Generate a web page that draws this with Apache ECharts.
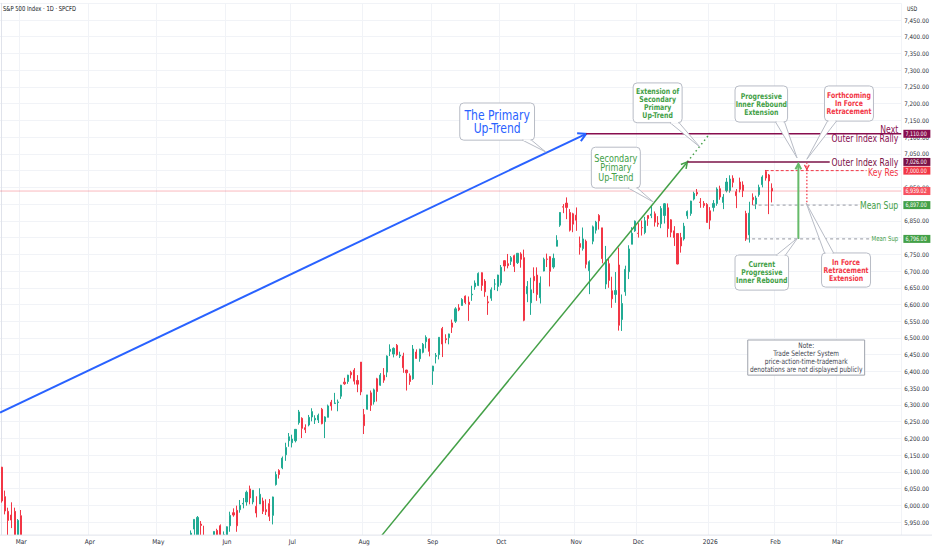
<!DOCTYPE html>
<html><head><meta charset="utf-8">
<script src="https://cdn.jsdelivr.net/npm/echarts@6/dist/echarts.min.js"></script>
<style>html,body{margin:0;padding:0;background:#fff}#c{width:932px;height:550px}</style>
</head><body><div id="c"></div>
<script>
// ---------------- DATA ----------------
const chartTitle = 'S&P 500 Index · 1D · SPCFD';
const currency = 'USD';
const firstDay = '2025-02-21';
const lastDay = '2026-03-27';
const holidays = ['2025-04-18','2025-05-26','2025-06-19','2025-07-04','2025-09-01','2025-11-27','2025-12-25','2026-01-01','2026-01-19','2026-02-16'];
const monthNames = ['2026','Feb','Mar','Apr','May','Jun','Jul','Aug','Sep','Oct','Nov','Dec'];
const yMin = 5900, yMax = 7500, yStep = 50;

// daily candles [open, high, low, close]
const feb25 = [[6114,6115,6008,6013],[6026,6044,5973,5983],[5982,5993,5908,5955],[5971,6009,5932,5956],[5982,5993,5858,5861],[5857,5959,5837,5955]];
const mar25 = [[5969,5986,5810,5849],[5812,5865,5732,5778],[5781,5861,5742,5843],[5785,5812,5711,5739],[5726,5783,5666,5770],[5705,5705,5564,5615],[5604,5636,5529,5572],[5624,5642,5546,5599],[5594,5598,5505,5521],[5563,5645,5563,5639],[5635,5703,5631,5675],[5654,5654,5598,5615],[5633,5715,5622,5675],[5646,5711,5632,5663],[5630,5670,5603,5667],[5718,5775,5718,5768],[5776,5787,5766,5777],[5771,5784,5694,5712],[5696,5732,5670,5693],[5679,5685,5572,5581],[5527,5620,5489,5612]];
const apr25 = [[5598,5651,5570,5633],[5580,5695,5571,5671],[5492,5500,5390,5397],[5292,5292,5070,5074],[4953,5247,4835,5062],[5193,5267,4910,4982],[4966,5481,4950,5457],[5353,5353,5116,5268],[5255,5370,5220,5363],[5441,5459,5358,5406],[5411,5450,5386,5397],[5335,5367,5220,5276],[5306,5328,5255,5283],[5232,5232,5101,5158],[5207,5309,5207,5288],[5395,5469,5356,5376],[5381,5489,5371,5485],[5489,5528,5455,5525],[5529,5554,5478,5529],[5508,5563,5505,5561],[5500,5581,5433,5569]];
const may25 = [[5626,5658,5597,5604],[5645,5700,5644,5687],[5655,5684,5640,5650],[5605,5634,5586,5607],[5614,5654,5579,5631],[5663,5720,5645,5664],[5678,5691,5649,5660],[5807,5845,5784,5844],[5854,5906,5837,5886],[5893,5906,5868,5892],[5870,5925,5856,5917],[5929,5958,5907,5958],[5902,5968,5896,5964],[5944,5953,5910,5940],[5910,5939,5830,5845],[5841,5878,5817,5842],[5782,5829,5768,5802],[5855,5922,5855,5922],[5925,5930,5884,5889],[5939,5943,5875,5912],[5903,5922,5843,5912]];
const jun25 = [[5897,5937,5862,5936],[5939,5981,5921,5970],[5978,5991,5966,5971],[5985,5999,5921,5939],[5987,6016,5978,6000],[6004,6022,5991,6006],[6010,6044,5999,6039],[6049,6059,6003,6022],[6010,6045,6003,6045],[5997,6027,5964,5977],[6004,6051,6004,6033],[6013,6023,5974,5982],[5987,6018,5971,5981],[6005,6019,5953,5967],[5970,6026,5943,6025],[6062,6101,6059,6092],[6104,6108,6080,6092],[6112,6146,6108,6141],[6151,6187,6133,6173],[6193,6216,6175,6205]];
const jul25 = [[6187,6211,6173,6198],[6193,6227,6188,6227],[6247,6285,6241,6279],[6260,6263,6201,6230],[6232,6242,6216,6226],[6240,6270,6236,6263],[6264,6290,6251,6280],[6255,6269,6243,6260],[6255,6274,6246,6269],[6287,6291,6242,6244],[6250,6266,6201,6264],[6263,6301,6263,6297],[6308,6315,6283,6297],[6304,6336,6303,6306],[6307,6316,6281,6309],[6326,6360,6318,6359],[6368,6381,6360,6363],[6370,6390,6363,6389],[6397,6402,6379,6390],[6404,6410,6361,6371],[6373,6389,6338,6362],[6428,6428,6329,6339]];
const aug25 = [[6271,6288,6213,6238],[6287,6330,6286,6330],[6336,6343,6282,6299],[6309,6349,6301,6345],[6378,6381,6310,6340],[6359,6395,6357,6389],[6389,6410,6366,6374],[6398,6448,6383,6446],[6460,6481,6446,6466],[6452,6472,6442,6469],[6478,6482,6447,6450],[6446,6459,6440,6449],[6446,6456,6396,6411],[6404,6405,6343,6396],[6387,6394,6360,6370],[6378,6479,6375,6467],[6458,6466,6438,6439],[6438,6468,6429,6466],[6457,6485,6454,6481],[6489,6508,6469,6502],[6497,6499,6445,6460]];
const sep25 = [[6401,6417,6360,6416],[6445,6455,6424,6448],[6450,6502,6436,6502],[6528,6533,6443,6482],[6498,6511,6484,6495],[6501,6513,6481,6512],[6545,6555,6515,6532],[6550,6592,6545,6587],[6590,6601,6580,6584],[6597,6619,6597,6615],[6625,6627,6601,6606],[6607,6624,6551,6600],[6629,6656,6611,6631],[6653,6672,6644,6664],[6657,6696,6655,6693],[6695,6696,6641,6657],[6670,6676,6623,6638],[6608,6626,6569,6605],[6619,6651,6611,6644],[6661,6676,6643,6661],[6654,6689,6640,6688]];
const oct25 = [[6665,6718,6657,6711],[6731,6732,6699,6715],[6722,6751,6708,6716],[6729,6745,6718,6740],[6746,6749,6697,6714],[6725,6753,6721,6753],[6751,6756,6710,6735],[6740,6764,6550,6553],[6632,6670,6607,6654],[6605,6680,6569,6644],[6684,6711,6634,6671],[6688,6711,6611,6630],[6620,6684,6603,6664],[6700,6740,6699,6735],[6736,6752,6712,6735],[6743,6744,6654,6699],[6712,6752,6707,6738],[6774,6807,6774,6792],[6837,6876,6832,6875],[6892,6900,6873,6891],[6903,6920,6855,6890],[6875,6885,6818,6822],[6871,6874,6816,6840]];
const nov25 = [[6867,6890,6820,6852],[6782,6803,6749,6771],[6767,6830,6761,6796],[6789,6794,6708,6720],[6701,6732,6631,6728],[6789,6836,6780,6832],[6822,6850,6812,6846],[6866,6870,6824,6850],[6829,6829,6723,6737],[6661,6775,6646,6734],[6722,6737,6650,6672],[6641,6683,6590,6617],[6630,6697,6605,6642],[6718,6770,6522,6538],[6555,6630,6521,6603],[6638,6716,6626,6705],[6698,6777,6676,6766],[6780,6831,6780,6813],[6820,6851,6817,6849]];
const dec25 = [[6813,6843,6800,6812],[6830,6851,6806,6829],[6815,6862,6810,6850],[6866,6866,6835,6857],[6866,6895,6858,6870],[6871,6878,6833,6846],[6843,6864,6832,6840],[6841,6894,6828,6887],[6866,6903,6842,6901],[6889,6902,6801,6827],[6853,6855,6801,6816],[6820,6834,6775,6800],[6812,6812,6720,6721],[6800,6814,6755,6775],[6796,6844,6791,6834],[6865,6881,6856,6878],[6872,6910,6865,6909],[6915,6937,6911,6932],[6935,6945,6924,6930],[6906,6918,6889,6905],[6902,6909,6889,6896],[6899,6903,6845,6845]];
const jan26 = [[6880,6891,6825,6852],[6890,6912,6878,6902],[6902,6950,6895,6945],[6946,6955,6913,6921],[6905,6930,6885,6921],[6940,6978,6935,6966],[6940,6986,6934,6975],[6977,6986,6950,6965],[6937,6945,6888,6925],[6966,6979,6935,6944],[6957,6968,6921,6940],[6872,6880,6790,6796],[6808,6907,6785,6873],[6920,6932,6897,6913],[6900,6925,6885,6918],[6928,6958,6922,6950],[6958,6986,6950,6981],[6997,7002,6970,6978],[6987,6990,6870,6969],[6947,6962,6905,6939]];

// price levels shown on the price scale
const levelPrices = [7110, 7026, 7000, 6939.02, 6897, 6796];
const levelLabels = ['7,110.00','7,026.00','7,000.00','6,939.02','6,897.00','6,796.00'];

// drawn lines in data units: [name, barIndexFrom, priceFrom, barIndexTo, priceTo]
const segments = [
  ['lastPrice', -0.5, 6939.02, 275.5, 6939.02],
  ['primary', -0.5, 6277, 179, 7110],
  ['secondary', 116, 5905, 210, 7026],
  ['secondaryExt', 210, 7026, 217, 7112],
  ['nextOuter', 179, 7110, 275.5, 7110],
  ['outer', 210, 7026, 253.6, 7026],
  ['keyRes', 234, 7000, 264.9, 7000],
  ['meanSup1', 230, 6897, 262.7, 6897],
  ['meanSup2', 228, 6796, 265.8, 6796],
  ['rebound', 244, 6796, 244, 7020],
  ['retraceArrow', 246.6, 7024, 246.6, 7004],
  ['retraceExt', 246.6, 7004, 246.6, 6897]
];

// text labels on the right, anchored at [barIndex, price]
const levelTexts = [
  ['next', 'Next\nOuter Index Rally', 274.6, 7110],
  ['outer', 'Outer Index Rally', 274.6, 7026],
  ['keyRes', 'Key Res', 274.6, 7000],
  ['meanBig', 'Mean Sup', 274.6, 6897],
  ['meanSmall', 'Mean Sup', 274.6, 6796]
];

// callouts: [name, text, leftBar, topPrice, rightBar, bottomPrice, tipBar, tipPrice]
const callouts = [
  ['primary', 'The Primary\nUp-Trend', 140.3, 7202, 163.2, 7091, 166.6, 7056],
  ['secondary', 'Secondary\nPrimary\nUp-Trend', 180.6, 7070, 195.6, 6948, 199.6, 6906],
  ['extension', 'Extension of\nSecondary\nPrimary\nUp-Trend', 193.4, 7262, 208.4, 7143, 213.9, 7070],
  ['progressive', 'Progressive\nInner Rebound\nExtension', 224.6, 7253, 240.7, 7145, 243.6, 7038],
  ['forthcoming', 'Forthcoming\nIn Force\nRetracement', 252.0, 7253, 267.0, 7148, 246.6, 7034],
  ['current', 'Current\nProgressive\nInner Rebound', 224.6, 6748, 241.0, 6643, 243.8, 6799],
  ['inforce', 'In Force\nRetracement\nExtension', 251.1, 6754, 266.1, 6652, 246.4, 6903],
  ['note', 'Note:\nTrade Selecter System\nprice-action-time-trademark\ndenotations are not displayed publicly', 228.5, 6494, 264.3, 6389, null, null]
];

// ---------------- BUILD ----------------
const DAYS = [];
(function(){
  let t = Date.parse(firstDay + 'T00:00:00Z'); const end = Date.parse(lastDay + 'T00:00:00Z');
  while (t <= end) { const d = new Date(t); const wd = d.getUTCDay(); const s = d.toISOString().slice(0,10);
    if (wd !== 0 && wd !== 6 && holidays.indexOf(s) < 0) DAYS.push(s); t += 86400000; }
})();
const OHLC = [].concat(feb25, mar25, apr25, may25, jun25, jul25, aug25, sep25, oct25, nov25, dec25, jan26);
const N = DAYS.length;

function hasFont(f){ const c = document.createElement('canvas').getContext('2d'); const t = 'abcdefghijklmnopqrstuvwxyz ABCDEFG 0123456789';
  c.font = '40px monospace'; const w0 = c.measureText(t).width; c.font = "40px '" + f + "', monospace"; return Math.abs(c.measureText(t).width - w0) > 0.5; }
let FONT = "'Noto Sans', sans-serif", SX = 0.82;
if (hasFont('Liberation Sans Narrow')) { FONT = "'Liberation Sans Narrow', sans-serif"; SX = 1.04; }
else if (hasFont('DejaVu Sans Condensed')) { FONT = "'DejaVu Sans Condensed', sans-serif"; SX = 0.86; }

const UP = '#22ab94', DOWN = '#f23645';
const GREEN = '#43a047', RED = '#f23645', MAROON = '#880e4f', BLUE = '#2962ff';
const SEG_STYLE = {
  lastPrice: {color:'rgba(242,54,69,0.35)', width:1},
  primary: {color:BLUE, width:2, arrow:9},
  secondary: {color:GREEN, width:1.5, arrow:7},
  secondaryExt: {color:GREEN, width:1.5, dash:[1.5,3]},
  nextOuter: {color:MAROON, width:1.5},
  outer: {color:'#7b1247', width:1.5},
  keyRes: {color:RED, width:1, dash:[3,2]},
  meanSup1: {color:'#9598a1', width:1, dash:[3,3]},
  meanSup2: {color:'#9598a1', width:1, dash:[3,3]},
  rebound: {color:'#66bb6a', width:2, arrow:6},
  retraceArrow: {color:RED, width:1, dash:[1.5,1.5], arrow:5, arrowWidth:1.2},
  retraceExt: {color:RED, width:1.3, dash:[1.5,2]}
};
const isMonthStart = i => i > 0 && DAYS[i].slice(0,7) !== DAYS[i-1].slice(0,7);

const chart = echarts.init(document.getElementById('c'), null, {renderer:'svg', width:932, height:550});
const bandW = 3.276;
const gridLeft = -1.3, gridRight = 932 - (gridLeft + N * bandW);
chart.setOption({
  animation:false,
  backgroundColor:'#ffffff',
  grid:{left:gridLeft, right:gridRight, top:3.27, bottom:11.2, containLabel:false},
  xAxis:[{
    type:'category', data:DAYS, boundaryGap:true, position:'bottom',
    axisLine:{show:false}, axisTick:{show:false}, axisLabel:{show:false},
    splitLine:{show:true, interval:(i)=>isMonthStart(i), lineStyle:{color:'#f1f3f7', width:1}}
  },{
    type:'value', min:-0.5, max:N-0.5, show:false, position:'top'
  },{
    type:'category', data:DAYS, boundaryGap:true, z:50, position:'bottom', offset:0,
    axisLine:{show:false}, axisTick:{show:false}, splitLine:{show:false},
    axisLabel:{interval:(i)=>isMonthStart(i), margin:0, fontSize:6.5, color:'#2a2e39', fontFamily:FONT,
      formatter:(v)=>{ const m = +v.slice(5,7); return m === 1 ? v.slice(0,4) : monthNames[m-1]; }}
  }],
  yAxis:{
    type:'value', position:'right', min:yMin, max:yMax, interval:yStep, scale:true,
    axisLine:{show:true, lineStyle:{color:'#e0e3eb'}}, axisTick:{show:false},
    axisLabel:{margin:3, fontSize:6.2, color:'#2a2e39', fontFamily:FONT,
      formatter:(v)=> (v <= yMin || v >= yMax) ? '' : v.toLocaleString('en-US',{minimumFractionDigits:2, maximumFractionDigits:2})},
    splitLine:{show:true, lineStyle:{color:'#f1f3f7', width:1}}
  },
  series:[{
    type:'candlestick', xAxisIndex:0, yAxisIndex:0, barWidth:1.6, clip:true, silent:true,
    data: OHLC.map(r => [r[0], r[3], r[2], r[1]]),
    itemStyle:{color:UP, color0:DOWN, borderColor:UP, borderColor0:DOWN, borderWidth:1}
  },{
    type:'custom', xAxisIndex:1, yAxisIndex:0, clip:true, z:5, silent:true,
    data: segments.map(s => [s[1], s[2], s[3], s[4]]),
    encode:{x:[0,2], y:[1,3]},
    renderItem:(params, api)=>{
      const st = SEG_STYLE[segments[params.dataIndex][0]];
      const a = api.coord([api.value(0), api.value(1)]), b = api.coord([api.value(2), api.value(3)]);
      const ch = [{type:'line', shape:{x1:a[0],y1:a[1],x2:b[0],y2:b[1]}, style:{stroke:st.color, lineWidth:st.width, lineDash:st.dash || null, fill:null}}];
      if (st.arrow) {
        const dx = b[0]-a[0], dy = b[1]-a[1], L = Math.hypot(dx,dy), ux = dx/L, uy = dy/L, s = st.arrow, th = 0.5;
        const c = Math.cos(th), sn = Math.sin(th);
        const p1 = [b[0] - s*(ux*c - uy*sn), b[1] - s*(uy*c + ux*sn)];
        const p2 = [b[0] - s*(ux*c + uy*sn), b[1] - s*(uy*c - ux*sn)];
        ch.push({type:'polyline', shape:{points:[p1, b, p2]}, style:{stroke:st.color, lineWidth:st.arrowWidth || st.width, fill:null}});
      }
      return {type:'group', children:ch};
    }
  }]
});

// ---------------- OVERLAYS ----------------
const px = (x, p) => chart.convertToPixel({xAxisIndex:1, yAxisIndex:0}, [x, p]);
const G = [];
function txt(x, y, text, size, color, align, lh, z, weight){
  G.push({type:'text', x:x, y:y, scaleX:SX, z:z || 20, silent:true,
    style:{text:text, x:0, y:0, font:(weight || 'normal') + ' ' + size + 'px ' + FONT, fill:color,
      textAlign:align || 'center', align:align || 'center', textVerticalAlign:'middle', verticalAlign:'middle', lineHeight:lh || size*1.1}});
}
const plotRight = gridLeft + N * bandW;
const plotBottom = px(0, 5911)[1];
// white area below the plot + borders
G.push({type:'rect', z:8, silent:true, shape:{x:0, y:plotBottom, width:plotRight, height:550 - plotBottom}, style:{fill:'#fff'}});
G.push({type:'line', z:9, silent:true, shape:{x1:0, y1:plotBottom, x2:932, y2:plotBottom}, style:{stroke:'#e0e3eb', lineWidth:1}});

// title & currency
txt(3, 8, chartTitle, 6.8, '#131722', 'left');
txt(907, 9, currency, 6.2, '#131722', 'left');

// level texts
const LT = {
  next:{size:10, color:MAROON, lh:9.6},
  outer:{size:10, color:'#7b1247'},
  keyRes:{size:10, color:RED},
  meanBig:{size:10, color:GREEN},
  meanSmall:{size:7, color:GREEN}
};
levelTexts.forEach(t => { const p = px(t[2], t[3]); const s = LT[t[0]]; txt(p[0], p[1] + (t[0]==='keyRes' ? 1.5 : 0), t[1], s.size, s.color, 'right', s.lh); });

// callouts
const CS = {
  primary:{size:14, lh:13.3, color:BLUE, tail:'br'},
  secondary:{size:10.5, lh:9.8, color:GREEN, tail:'br'},
  extension:{size:8, lh:8, color:GREEN, tail:'br', bold:true},
  progressive:{size:8, lh:8, color:GREEN, tail:'br', bold:true},
  forthcoming:{size:8, lh:8, color:RED, tail:'bl', bold:true},
  current:{size:8, lh:8, color:GREEN, tail:'tr', bold:true},
  inforce:{size:8, lh:8.2, color:RED, tail:'tl', bold:true},
  note:{size:7.6, lh:8.1, color:'#434651', tail:null, square:true}
};
callouts.forEach(c => {
  const s = CS[c[0]]; const tl = px(c[2], c[3]), br = px(c[4], c[5]);
  const L = tl[0], T = tl[1], R = br[0], B = br[1];
  const border = s.square ? '#9fa3ad' : '#b8bcc6';
  G.push({type:'rect', z:12, silent:true, shape:{x:L, y:T, width:R-L, height:B-T, r:s.square ? 0 : 4}, style:{fill:'#fff', stroke:border, lineWidth:1}});
  if (s.tail) {
    const tip = px(c[6], c[7]); let A, Bp;
    if (s.tail === 'br') { A = [R-12, B]; Bp = [R-3, B]; }
    if (s.tail === 'bl') { A = [L+3, B]; Bp = [L+12, B]; }
    if (s.tail === 'tr') { A = [R-12, T]; Bp = [R-3, T]; }
    if (s.tail === 'tl') { A = [L+3, T]; Bp = [L+12, T]; }
    G.push({type:'polygon', z:13, silent:true, shape:{points:[A, tip, Bp]}, style:{fill:'#fff', stroke:border, lineWidth:1}});
    G.push({type:'line', z:14, silent:true, shape:{x1:A[0]+1, y1:A[1], x2:Bp[0]-1, y2:Bp[1]}, style:{stroke:'#fff', lineWidth:1.6}});
  }
  txt((L+R)/2, (T+B)/2, c[1], s.size, s.color, 'center', s.lh, 15, s.bold ? 'bold' : 'normal');
});

// price-scale boxes
const boxColors = [MAROON, '#7b1247', RED, '#f7525f', GREEN, GREEN];
levelPrices.forEach((p, i) => {
  const y = px(0, p)[1];
  G.push({type:'rect', z:30, silent:true, shape:{x:plotRight + 0.5, y:y-4, width:27, height:8}, style:{fill:boxColors[i]}});
  txt(plotRight + 2.5, y + 0.2, levelLabels[i], 6.2, '#ffffff', 'left', 7, 31);
});
chart.setOption({graphic:{elements:G}});
</script>
</body></html>
